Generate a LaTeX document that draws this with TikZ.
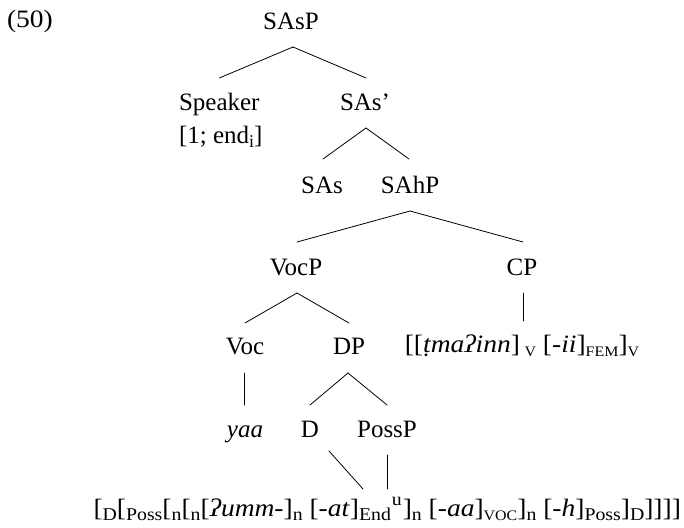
\documentclass[tikz,border=0pt]{standalone}
\usepackage{fontspec}
\usepackage{graphicx}
\setmainfont{Liberation Serif}
\usetikzlibrary{calc}
\newcommand{\sbs}[1]{\raisebox{-4pt}{\fontsize{18}{18}\selectfont #1}}
\newcommand{\sps}[1]{\raisebox{11pt}{\fontsize{18}{18}\selectfont #1}}
\newcommand{\fsc}[1]{{\fontsize{14.5}{15}\selectfont #1}}
\newcommand{\wx}[1]{\scalebox{1.1}[1]{#1}}
\begin{document}
\begin{tikzpicture}[x=1pt,y=1pt,
  every node/.style={inner sep=0pt,outer sep=0pt,font=\fontsize{25}{30}\selectfont},
  branch/.style={line width=0.8pt,line cap=round}]
\useasboundingbox (0,0) rectangle (684,-527);
\node[anchor=base west] (ex) at (7,-28) {\wx{(50)}};
\node[anchor=base] (SAsP) at (291,-30) {SAsP};
\node[anchor=base west] (Speaker) at (179,-110) {Speaker};
\node[anchor=base west] (spk2) at (179,-143) {[1; end\sbs{i}]};
\node[anchor=base] (SAsb) at (365,-110) {SAs’};
\node[anchor=base] (SAs) at (322,-193) {SAs};
\node[anchor=base] (SAhP) at (410,-193) {SAhP};
\node[anchor=base] (VocP) at (296,-275) {VocP};
\node[anchor=base] (CP) at (522,-275) {CP};
\node[anchor=base] (Voc) at (245,-354) {Voc};
\node[anchor=base] (DP) at (349,-354) {DP};
\node[anchor=base] (CPleaf) at (522,-352) {\wx{[[\textit{ṭmaʔinn}]\,\sbs{\fsc{V}} [-\textit{ii}]\sbs{\fsc{FEM}}]\sbs{\fsc{V}}}};
\node[anchor=base] (yaa) at (245,-437) {\textit{yaa}};
\node[anchor=base] (D) at (310,-437) {D};
\node[anchor=base] (PossP) at (387,-437) {PossP};
% bottom bracketing, in pieces so that the branches can reach End and u
\node[anchor=base west] (End) at (359,-516) {\wx{\sbs{End}}};
\node[anchor=base west] (u) at ([xshift=1pt]End.base east) {\wx{\sps{u}}};
\node[anchor=base east] (LeafA) at (End.base west) {\wx{[\sbs{D}[\sbs{Poss}[\sbs{n}[\sbs{n}[\textit{ʔumm-}]\sbs{n} [-\textit{at}]}};
\node[anchor=base west] (LeafB) at ([xshift=1pt]u.base east) {\wx{]\sbs{n} [-\textit{aa}]\sbs{\fsc{VOC}}]\sbs{n} [-\textit{h}]\sbs{Poss}]\sbs{D}]]]]}};
\draw[branch] ($(SAsP.base)+(2,-17)$) -- ($(Speaker.base)+(0,32)$);
\draw[branch] ($(SAsP.base)+(2,-17)$) -- ($(SAsb.base)+(1,32)$);
\draw[branch] ($(SAsb.base)+(1,-18)$) -- ($(SAs.base)+(1,34)$);
\draw[branch] ($(SAsb.base)+(1,-18)$) -- ($(SAhP.base)+(-1,34)$);
\draw[branch] ($(SAhP.base)+(0,-18)$) -- ($(VocP.base)+(1,33)$);
\draw[branch] ($(SAhP.base)+(0,-18)$) -- ($(CP.base)+(1,33)$);
\draw[branch] ($(VocP.base)+(1,-18)$) -- ($(Voc.base)+(0,31)$);
\draw[branch] ($(VocP.base)+(1,-18)$) -- ($(DP.base)+(0,31)$);
\draw[branch] ($(CP.base)+(1,-18)$) -- ($(CPleaf.base)+(1,31)$);
\draw[branch] ($(Voc.base)+(-1,-19)$) -- ($(yaa.base)+(-1,32)$);
\draw[branch] ($(DP.base)+(-1,-19)$) -- ($(D.base)+(0,32)$);
\draw[branch] ($(DP.base)+(-1,-19)$) -- ($(PossP.base)+(0,32)$);
\draw[branch] ($(D.base)+(19,-14)$) -- ($(End.base west)+(4,27)$);
\draw[branch] ($(PossP.base)+(0,-18)$) coordinate (pp) -- (pp |- {$(u.base)+(0,27)$});
\end{tikzpicture}
\end{document}
